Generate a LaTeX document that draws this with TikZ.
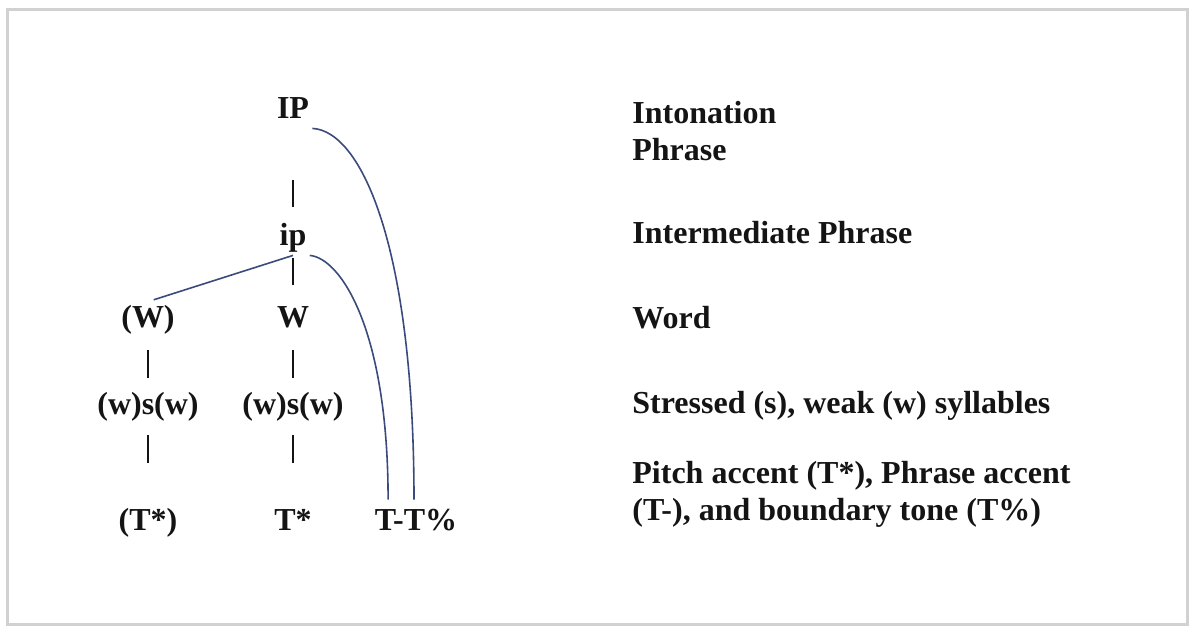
\documentclass[tikz,border=0pt]{standalone}
\usepackage{fontspec}
\setmainfont{Liberation Serif}
\usepackage{xcolor}
\usepackage{tikz}
\usetikzlibrary{positioning, calc}

\definecolor{ink}{HTML}{141414}
\definecolor{tieblue}{HTML}{3B4A7C}

\begin{document}
\begin{tikzpicture}[x=0.5pt, y=0.5pt, font=\fontsize{16}{18.5}\selectfont\bfseries, text=ink]
  \tikzstyle{unit} = [inner sep=1.5pt, text height=11pt, text depth=3.5pt, anchor=base]
  \tikzstyle{level} = [inner sep=0pt, anchor=base west, align=left]
  \tikzstyle{bar} = [draw=ink, line width=1pt]
  \tikzstyle{tie} = [draw=tieblue, line width=0.8pt]

  \useasboundingbox (0,0) rectangle (1191,-628);
  \draw[black!18, line width=1.5pt] (7,-9) rectangle (1187,-624);

  % prosodic tree
  \node[unit] (IP) at (293,-118) {IP};
  \node[unit] (ip) at (293,-245) {ip};
  \node[unit] (pW) at (148,-327) {(W)};
  \node[unit] (W) at (293,-327) {W};
  \node[unit] (ws1) at (148,-414) {(w)s(w)};
  \node[unit] (ws2) at (293,-414) {(w)s(w)};
  \node[unit] (pT) at (148,-530) {(T*)};
  \node[unit] (T) at (293,-530) {T*};
  \node[unit] (TT) at (416,-530) {T-T\%};

  \coordinate (Tphr) at ([shift={(8.35pt,2.5pt)}]TT.north west);
  \coordinate (Tbnd) at ([shift={(-1pt,2.5pt)}]TT.north);

  \draw[bar, shorten <=26pt, shorten >=6.5pt] (IP) -- (ip);
  \draw[bar, shorten <=1.5pt, shorten >=8.5pt] (ip) -- (W);
  \foreach \a/\b in {pW/ws1, W/ws2}
    \draw[bar, shorten <=6.5pt, shorten >=5.5pt] (\a) -- (\b);
  \foreach \a/\b in {ws1/pT, ws2/T}
    \draw[bar, shorten <=5.5pt, shorten >=21pt] (\a) -- (\b);

  \draw[tie, shorten >=3pt] (ip.south) -- (pW.north);
  \draw[tie] (ip.south east) to[out=-5, in=90, out distance=15.5pt, in distance=85pt] (Tphr);
  \draw[tie] (IP.south east) to[out=-3, in=90, out distance=25pt, in distance=125pt] (Tbnd);

  % level names (base = last line)
  \node[level] (lIP) at (632,-160) {Intonation\\Phrase};
  \node[level] (lip) at (632,-243) {Intermediate Phrase};
  \node[level] (lW) at (632,-328) {Word};
  \node[level] (lws) at (632,-413) {Stressed (s), weak (w) syllables};
  \node[level] (lT) at (632,-520) {Pitch accent (T*), Phrase accent\\(T-), and boundary tone (T\%)};
\end{tikzpicture}
\end{document}
